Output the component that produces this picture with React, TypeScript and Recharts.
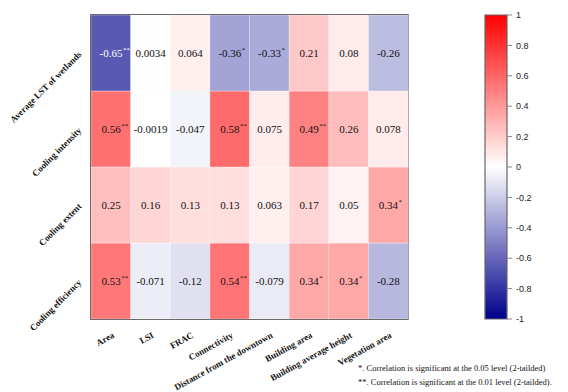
import React from 'react';
import {
  BarChart,
  Bar,
  XAxis,
  YAxis,
  Cell,
  LabelList,
  ReferenceArea,
  ComposedChart,
  Scatter,
} from 'recharts';

const columns = [
  'Area',
  'LSI',
  'FRAC',
  'Connectivity',
  'Distance from the downtown',
  'Building area',
  'Building average height',
  'Vegetation area',
];

const rows = ['Average LST of wetlands', 'Cooling intensity', 'Cooling extent', 'Cooling efficiency'];

const avgLst = [-0.65, 0.0034, 0.064, -0.36, -0.33, 0.21, 0.08, -0.26];
const coolingIntensity = [0.56, -0.0019, -0.047, 0.58, 0.075, 0.49, 0.26, 0.078];
const coolingExtent = [0.25, 0.16, 0.13, 0.13, 0.063, 0.17, 0.05, 0.34];
const coolingEfficiency = [0.53, -0.071, -0.12, 0.54, -0.079, 0.34, 0.34, -0.28];

const avgLstStars = ['**', '', '', '*', '*', '', '', ''];
const intensityStars = ['**', '', '', '**', '', '**', '', ''];
const extentStars = ['', '', '', '', '', '', '', '*'];
const efficiencyStars = ['**', '', '', '**', '', '*', '*', ''];

const colorbarTicks = [-1, -0.8, -0.6, -0.4, -0.2, 0, 0.2, 0.4, 0.6, 0.8, 1];

const rowValues = [avgLst, coolingIntensity, coolingExtent, coolingEfficiency];
const rowStars = [avgLstStars, intensityStars, extentStars, efficiencyStars];

// bars stack bottom-up, so the last row goes first
const stackOrder = [3, 2, 1, 0];

const chartData = columns.map(name => ({ name, r0: 1, r1: 1, r2: 1, r3: 1 }));

const SERIF = "'Liberation Serif', 'Times New Roman', serif";
const SANS = "'Liberation Sans', Arial, sans-serif";
const BLUE_END = 140;

function heatColor(v: number) {
  if (v >= 0) {
    const c = Math.round(255 * (1 - v));
    return `rgb(255,${c},${c})`;
  }
  const a = -v;
  const c = Math.round(255 * (1 - a));
  const b = Math.round(255 - a * (255 - BLUE_END));
  return `rgb(${c},${c},${b})`;
}

function textWidth(s: string, size: number) {
  let w = 0;
  for (const ch of s) {
    if (ch === '.') w += 0.25;
    else if (ch === '-') w += 0.333;
    else w += 0.5;
  }
  return w * size;
}

function makeCellLabel(row: number) {
  return (props: any) => {
    const { x, y, width, height, index } = props;
    const v = rowValues[row][index];
    const stars = rowStars[row][index];
    const cx = x + width / 2;
    const cy = y + height / 2;
    const str = String(v);
    const fill = v < -0.5 ? '#fff' : '#111';
    return (
      <g>
        <text x={cx} y={cy + 4} textAnchor="middle" fontSize={11} fontFamily={SERIF} fill={fill}>
          {str}
        </text>
        {stars && (
          <text x={cx + textWidth(str, 11) / 2 + 0.5} y={cy - 1} fontSize={7} fontFamily={SERIF} fill={fill}>
            {stars}
          </text>
        )}
      </g>
    );
  };
}

function RowTick({ y, payload }: any) {
  const label = rows[3 - Math.floor(payload.value)];
  return (
    <text
      x={82}
      y={y + 2}
      transform={`rotate(-45, 82, ${y + 2})`}
      textAnchor="end"
      fontSize={9}
      fontWeight="bold"
      fontFamily={SERIF}
      fill="#111"
    >
      {label}
    </text>
  );
}

function ColTick({ x, y, payload }: any) {
  const tx = x + 4;
  const ty = y + 10;
  return (
    <text
      x={tx}
      y={ty}
      transform={`rotate(-29, ${tx}, ${ty})`}
      textAnchor="end"
      fontSize={9}
      fontWeight="bold"
      fontFamily={SERIF}
      fill="#111"
    >
      {payload.value}
    </text>
  );
}

export default function App() {
  return (
    <div style={{ position: 'absolute', left: 0, top: 0, width: 568, height: 392, background: '#fff' }}>
      <div style={{ position: 'absolute', left: 0, top: 0 }}>
        <BarChart
          width={568}
          height={392}
          data={chartData}
          margin={{ top: 15, right: 160, bottom: 0, left: 0 }}
          barCategoryGap={0}
          barGap={0}
        >
          <XAxis
            dataKey="name"
            height={73}
            interval={0}
            tickLine={false}
            axisLine={false}
            tick={<ColTick />}
          />
          <YAxis
            type="number"
            domain={[0, 4]}
            ticks={[0.5, 1.5, 2.5, 3.5]}
            width={91}
            tickLine={false}
            axisLine={false}
            tick={<RowTick />}
          />
          {stackOrder.map(r => (
            <Bar key={r} dataKey={`r${r}`} stackId="s" isAnimationActive={false}>
              {columns.map((c, i) => (
                <Cell key={c} fill={heatColor(rowValues[r][i])} stroke="rgba(255,255,255,0.35)" strokeWidth={1} />
              ))}
              <LabelList dataKey={`r${r}`} content={makeCellLabel(r)} />
            </Bar>
          ))}
          <ReferenceArea y1={0} y2={4} fill="none" stroke="#111" strokeWidth={1.5} ifOverflow="visible" />
        </BarChart>
      </div>
      <div style={{ position: 'absolute', left: 0, top: 0 }}>
        <ComposedChart
          width={568}
          height={392}
          data={[{ x: 0, y: 0 }]}
          margin={{ top: 15, right: 0, bottom: 73, left: 485 }}
        >
          <defs>
            <linearGradient id="cbGrad" x1="0" y1="0" x2="0" y2="1">
              <stop offset="0%" stopColor="rgb(255,0,0)" />
              <stop offset="50%" stopColor="#ffffff" />
              <stop offset="100%" stopColor={`rgb(0,0,${BLUE_END})`} />
            </linearGradient>
          </defs>
          <XAxis type="number" dataKey="x" domain={[0, 1]} hide />
          <YAxis
            type="number"
            dataKey="y"
            orientation="right"
            domain={[-1, 1]}
            ticks={colorbarTicks}
            width={61}
            axisLine={false}
            tickLine={{ stroke: '#888' }}
            tickSize={5}
            tickMargin={4}
            tick={{ fontSize: 9, fill: '#222', fontFamily: SANS }}
          />
          <ReferenceArea x1={0} x2={1} y1={-1} y2={1} fill="url(#cbGrad)" fillOpacity={1} stroke="#666" strokeWidth={1.2} />
          <Scatter dataKey="y" fill="none" isAnimationActive={false} />
        </ComposedChart>
      </div>
      <div style={{ position: 'absolute', left: 358, top: 363, fontFamily: SERIF, fontSize: 8.5, color: '#111', whiteSpace: 'nowrap' }}>
        *. Correlation is significant at the 0.05 level (2-tailded)
      </div>
      <div style={{ position: 'absolute', left: 358, top: 377, fontFamily: SERIF, fontSize: 8.5, color: '#111', whiteSpace: 'nowrap' }}>
        **. Correlation is significant at the 0.01 level (2-tailded).
      </div>
    </div>
  );
}
